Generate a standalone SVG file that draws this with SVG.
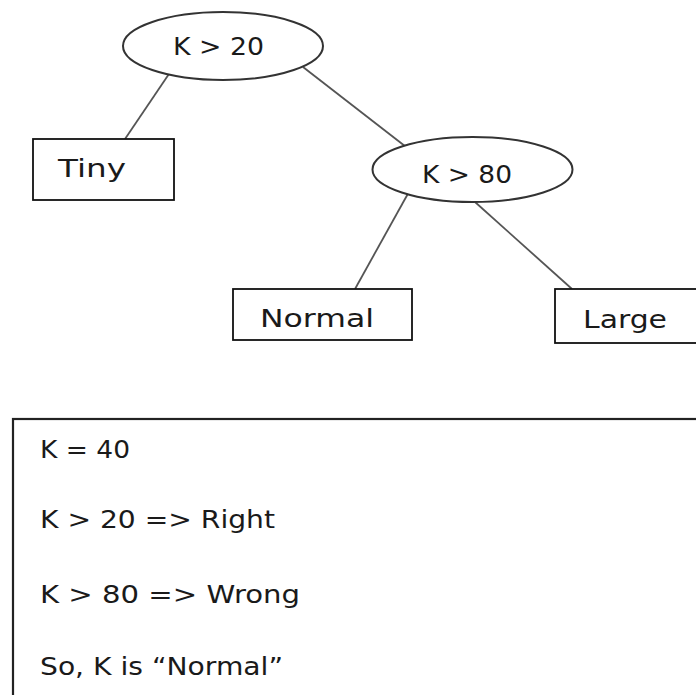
<svg xmlns="http://www.w3.org/2000/svg" width="696" height="695" viewBox="0 0 696 695">
  <style>
    .dec { fill: #ffffff; stroke: #333333; stroke-width: 2; }
    .leaf { fill: #ffffff; stroke: #111111; stroke-width: 1.8; }
    .edge { stroke: #555555; stroke-width: 1.8; fill: none; }
    .lbl { font-family: "DejaVu Sans", "Liberation Sans", sans-serif; font-size: 24px; fill: #1a1a1a; }
  </style>
  <rect x="0" y="0" width="696" height="695" fill="#ffffff"/>

  <!-- tree edges -->
  <g id="connectors">
    <line class="edge" x1="173" y1="68" x2="125" y2="139"/>
    <line class="edge" x1="303" y1="67" x2="410" y2="150"/>
    <line class="edge" x1="410" y1="190" x2="355" y2="289"/>
    <line class="edge" x1="475" y1="202" x2="572" y2="289"/>
  </g>

  <g id="root">
    <ellipse class="dec" cx="223" cy="46" rx="100" ry="34"/>
    <text class="lbl" x="173" y="55" textLength="91" lengthAdjust="spacingAndGlyphs">K &gt; 20</text>
  </g>

  <g id="tiny">
    <rect class="leaf" x="33" y="139" width="141" height="61"/>
    <text class="lbl" x="58" y="177" textLength="68" lengthAdjust="spacingAndGlyphs">Tiny</text>
  </g>

  <g id="split80">
    <ellipse class="dec" cx="472.5" cy="169.5" rx="100" ry="32.5"/>
    <text class="lbl" x="422" y="183" textLength="90" lengthAdjust="spacingAndGlyphs">K &gt; 80</text>
  </g>

  <g id="normal">
    <rect class="leaf" x="233" y="289" width="179" height="51"/>
    <text class="lbl" x="260" y="327" textLength="114" lengthAdjust="spacingAndGlyphs">Normal</text>
  </g>

  <g id="large">
    <rect class="leaf" x="555" y="289" width="160" height="54"/>
    <text class="lbl" x="583" y="328" textLength="84" lengthAdjust="spacingAndGlyphs">Large</text>
  </g>

  <!-- worked example -->
  <g id="example">
    <rect x="13" y="419" width="700" height="300" fill="#ffffff" stroke="#222222" stroke-width="2.2"/>
    <text class="lbl" x="40" y="458" textLength="90" lengthAdjust="spacingAndGlyphs">K = 40</text>
    <text class="lbl" x="40" y="528" textLength="235" lengthAdjust="spacingAndGlyphs">K &gt; 20 =&gt; Right</text>
    <text class="lbl" x="40" y="603" textLength="260" lengthAdjust="spacingAndGlyphs">K &gt; 80 =&gt; Wrong</text>
    <text class="lbl" x="40" y="675" textLength="243" lengthAdjust="spacingAndGlyphs">So, K is “Normal”</text>
  </g>
</svg>
